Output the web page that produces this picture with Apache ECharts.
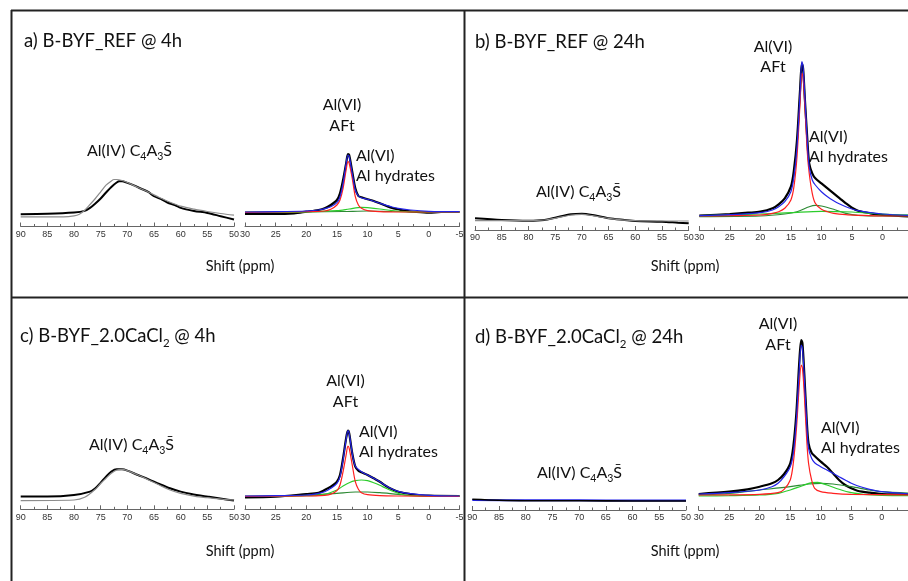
<!DOCTYPE html>
<html>
<head>
<meta charset="utf-8">
<script src="https://cdn.jsdelivr.net/npm/echarts@6/dist/echarts.min.js"></script>
<style>
  html, body { margin: 0; padding: 0; background: #fff; }
  #chart { width: 908px; height: 581px; }
</style>
</head>
<body>
<div id="chart"></div>
<script>
// tick labels of the two shift windows (ppm)
const leftTicks = [90, 85, 80, 75, 70, 65, 60, 55, 50]
const rightTicks = [30, 25, 20, 15, 10, 5, 0, -5]

// [shift ppm, intensity a.u.]
// a) B-BYF_REF @ 4h
const aIvExp = [[90,12.3],[85,12.7],[80,14],[78,15.6],[77,18.6],[76,23],[75,28],[74,34],[73,39.6],[72,44],[71.5,45.3],[71,45.3],[70,43.6],[69,41.6],[67.5,38],[66,34.3],[65,30.3],[63.5,27],[62.5,24],[61,21.3],[60,18.6],[57.5,15.6],[55,13.6],[52.5,10.3],[50,7]]
const aIvFit = [[90,9.6],[82,9.6],[80,10.6],[79,12.3],[78,16.3],[77,22],[76,28],[75,34.6],[74,41.3],[73,45.6],[72.5,47],[72,47],[71,46],[70,44],[68,39],[66,34.3],[64,29],[62,24.3],[60,20.3],[57.5,17.3],[55,15],[52.5,13],[50,11.3]]
const aViExp = [[30,12.5],[25,12.5],[22,13.2],[20,14.8],[18,16.5],[17,18.2],[16,21.5],[15,26.5],[14.5,33.2],[14,46.5],[13.5,63],[13.2,72.5],[13,71.5],[12.5,54.8],[12,38.2],[11.5,30.5],[11,29.2],[10,27.2],[9,25.5],[8,23.2],[7,20.8],[6,18.5],[5,17.2],[4,15.8],[2,14.5],[0,13.8],[-2,14.5],[-5,14.5]]
const aViSum = [[30,14.5],[25,14.8],[20,15.5],[18,16.5],[16,19.8],[15,23.8],[14.5,29.8],[14,43.2],[13.5,63],[13.2,71.5],[13,70],[12.5,53],[12,36.5],[11.5,30.5],[11,28.8],[10,27.2],[8,23.2],[6,19.5],[5,18.2],[3,16.5],[0,15.2],[-5,14.8]]
const aViAft = [[30,14.2],[20,14.8],[17,15.5],[16,17.2],[15,21.5],[14.5,26.5],[14,38.2],[13.5,56.5],[13.2,64.8],[13,63.2],[12.5,48.2],[12,29.8],[11.5,21.5],[11,18.2],[10,15.8],[8,14.8],[5,14.5],[-5,14.5]]
const aViHydA = [[30,14.2],[20,14.5],[15,15.8],[13,17.5],[11,19.2],[10,18.8],[8,17.5],[6,15.8],[4,14.8],[0,14.5],[-5,14.5]]
const aViHydB = [[30,14.5],[20,14.6],[14,15],[10,15.5],[6,15],[0,14.6],[-5,14.5]]

// b) B-BYF_REF @ 24h
const bIvExp = [[90,11.7],[85,10],[80,9.3],[77,10],[75,12.3],[72,15.7],[70,16.3],[68,15],[65,11.7],[62,10],[60,9],[55,8.3],[52,7.3],[50,6.7]]
const bIvFit = [[90,9.3],[80,9.3],[77,10],[75,11.7],[72,15],[70,15.7],[68,14.3],[65,11.7],[60,9.3],[55,9],[50,9]]
const bViExp = [[30,14.3],[25,16],[22,17.3],[20,18.3],[18,21.7],[17,25.7],[16,31.7],[15,43.3],[14.5,60],[14,90],[13.5,140],[13.2,166.7],[13,161.7],[12.7,130],[12.3,90],[12,66.7],[11.5,56.7],[11,51.7],[10,46.7],[9,41.7],[8,36.7],[7,31.7],[6,26.7],[5,22.3],[4,19.3],[2,16.7],[0,15],[-2,14.3],[-5,13.3]]
const bViSum = [[30,14.3],[25,15.3],[20,17.3],[18,20],[17,23.3],[16,28.3],[15,38.3],[14.5,53.3],[14,83.3],[13.5,136.7],[13.2,168.3],[13,163.3],[12.7,131.7],[12.3,86.7],[12,63.3],[11.5,50],[11,45],[10,38.3],[9,33.3],[8,29.3],[7,26],[6,23.3],[5,21],[4,19.3],[2,17.3],[0,16],[-5,14.3]]
const bViAft = [[30,14],[25,14.3],[20,15],[18,16.7],[17,18.3],[16,21.7],[15,30],[14.5,43.3],[14,73.3],[13.5,126.7],[13.2,156.7],[13,153.3],[12.7,123.3],[12.3,76.7],[12,56.7],[11.5,36.7],[11,26.7],[10,20.7],[9,18.3],[8,16.7],[6,15.3],[4,14.7],[0,14],[-5,14]]
const bViHydA = [[30,14.3],[20,16],[15,17.3],[10,18.7],[5,18],[0,16],[-5,15]]
const bViHydB = [[30,13.3],[20,14],[16,16],[14,18.3],[12,23.3],[11,24.7],[10,24],[8,20.7],[6,16.7],[4,14.7],[0,14],[-5,14]]

// c) B-BYF_2.0CaCl2 @ 4h
const cIvExp = [[90,12.7],[85,12.7],[80,14.3],[77,17.7],[76,21],[75,26.7],[74,32.7],[73,37.7],[72,40],[71,40],[70,38.7],[68,34.3],[66,30],[64,25.3],[62,21],[60,17.7],[58,15.3],[55,12.7],[52,10.3],[50,8.7]]
const cIvFit = [[90,8.7],[80,9.3],[78,12],[76,20],[75,26],[74,31],[73,36],[72,39.3],[71,40],[70,38.7],[68,34.3],[66,29.3],[64,24.3],[62,19.3],[60,16],[57,12.7],[55,11.7],[52,10],[50,9.3]]
const cViExp = [[30,12],[25,12.6],[20,15.3],[18,16.6],[17,19.3],[16,22.6],[15,27.6],[14.5,34.3],[14,51],[13.5,71],[13.2,78.6],[13,76],[12.5,56],[12,42.6],[11.5,38.6],[11,37],[10,34.3],[9,31],[8,27.6],[7,23.3],[6,20],[5,17.6],[3,15.3],[0,13.6],[-5,13.3]]
const cViSum = [[30,13.3],[25,13.6],[20,14.3],[18,16],[17,17.6],[16,21],[15,26],[14.5,32.6],[14,49.3],[13.5,70],[13.2,78.6],[13,76],[12.5,56],[12,43.3],[11,37.6],[10,34.3],[9,31],[8,27.6],[7,23.6],[6,20.3],[5,18],[3,15.6],[0,14],[-5,13.3]]
const cViAft = [[30,13],[20,13.3],[17,14],[16,15],[15,18.6],[14.5,24.3],[14,37.6],[13.5,54.3],[13.2,63.3],[13,61],[12.5,44.3],[12,27.6],[11.5,20],[11,16.6],[10,14.6],[8,13.6],[5,13.3],[-5,13]]
const cViHydA = [[30,13],[20,13.6],[17,15],[15,19.3],[14,23.3],[13,26.6],[12,28.6],[11,29.3],[10,28.6],[9,26.6],[8,24],[7,21],[6,18.3],[5,16],[4,14.3],[2,13.3],[-5,13]]
const cViHydB = [[30,13],[20,14],[15,16],[12,17.3],[10,17.3],[8,16.6],[5,15],[2,13.6],[-5,13.3]]

// d) B-BYF_2.0CaCl2 @ 24h
const dIvExp = [[90,10.7],[85,9.7],[80,9.3],[70,9.3],[60,9],[50,9]]
const dIvFit = [[90,10],[80,9.7],[70,9.7],[60,9.5],[50,9.5]]
const dViExp = [[30,16],[25,18.3],[22,20.7],[20,23.3],[18,26.7],[17,30],[16,36],[15,46.7],[14.5,63.3],[14,96.7],[13.5,150],[13.2,170],[13,166.7],[12.7,136.7],[12.3,90],[12,66.7],[11.5,57.3],[11,54],[10,48.3],[9,43.3],[8,36.7],[7,30],[6,25],[5,21.7],[4,19.3],[2,17.3],[0,16],[-2,15.7],[-5,15.7]]
const dViSum = [[30,16],[25,17.3],[20,20],[18,23.3],[17,26.7],[16,33.3],[15,43.3],[14.5,56.7],[14,90],[13.5,143.3],[13.2,165],[13,161.7],[12.7,133.3],[12.3,86.7],[12,61.7],[11.5,51.7],[11,47.3],[10,43.3],[9,40],[8,36.7],[7,33.3],[6,30],[5,26.7],[4,24.3],[2,20.7],[0,18.3],[-5,16]]
const dViAft = [[30,15],[20,15.7],[17,17.3],[16,20.7],[15,30],[14.5,46.7],[14,80],[13.5,126.7],[13.2,145],[13,141.7],[12.7,116.7],[12.3,70],[12,46.7],[11.5,30],[11,21.7],[10,18.3],[8,16.7],[5,15.7],[-5,15]]
const dViHydA = [[30,14],[25,14.3],[20,15],[17,16.7],[15,20],[13,24.3],[11.5,27.3],[10.5,27.7],[9,25],[7,20.7],[5,17.3],[3,15.7],[0,14.7],[-5,14.3]]
const dViHydB = [[30,15],[25,16.7],[20,20],[15,23.3],[12,26],[10,26.7],[8,26],[5,23.3],[2,20],[0,18.3],[-5,16.7]]

const panelTitles = [
  'a) B-BYF_REF @ 4h',
  'b) B-BYF_REF @ 24h',
  'c) B-BYF_2.0CaCl{sub|2} @ 4h',
  'd) B-BYF_2.0CaCl{sub|2} @ 24h',
]

const C = {
  exp: '#000000',
  fit: '#8c8c8c',
  sum: '#2424e8',
  aft: '#ff1f1f',
  hydA: '#2ccc2c',
  hydB: '#2d8a34',
}

// layout of each panel: axis baseline y, pixel span of both windows
const panels = [
  { axisY: 226.5, left: [20.7, 234], right: [245, 459.5], ivFit: C.fit, fitUnder: false,
    data: { ivExp: aIvExp, ivFit: aIvFit, viExp: aViExp, viSum: aViSum, viAft: aViAft, hydA: aViHydA, hydB: aViHydB },
    title: [24, 41], iv: [87, 151], aft: [342, 105, 126], hyd: [356, 156, 176], shift: [240, 266] },
  { axisY: 230, left: [475, 688.7], right: [699.3, 913], ivFit: C.fit, fitUnder: false,
    data: { ivExp: bIvExp, ivFit: bIvFit, viExp: bViExp, viSum: bViSum, viAft: bViAft, hydA: bViHydA, hydB: bViHydB },
    title: [475, 42], iv: [536, 192], aft: [773, 47, 67], hyd: [809, 137, 157], shift: [685, 266] },
  { axisY: 509.3, left: [20.7, 234], right: [245, 459.5], ivFit: C.fit, fitUnder: false,
    data: { ivExp: cIvExp, ivFit: cIvFit, viExp: cViExp, viSum: cViSum, viAft: cViAft, hydA: cViHydA, hydB: cViHydB },
    title: [20, 336], iv: [89, 445], aft: [345.5, 381, 402], hyd: [359, 432, 452], shift: [240, 551] },
  { axisY: 510, left: [472.3, 686], right: [698.7, 912.3], ivFit: C.sum, fitUnder: true,
    data: { ivExp: dIvExp, ivFit: dIvFit, viExp: dViExp, viSum: dViSum, viAft: dViAft, hydA: dViHydA, hydB: dViHydB },
    title: [475, 337], iv: [537, 473], aft: [778, 324, 345], hyd: [821, 428, 448], shift: [685, 551] },
]

const GRID_H = 200
const FONT = 'Lato, "Open Sans", sans-serif'

const grid = []
const xAxis = []
const yAxis = []
const series = []
const graphic = []

function addLine(gi, data, color, width) {
  series.push({
    type: 'line', xAxisIndex: gi, yAxisIndex: gi, data,
    symbol: 'none', smooth: 0.3, silent: true,
    lineStyle: { color, width },
  })
}

function axisFor(gi, ticks) {
  return {
    type: 'value', gridIndex: gi, inverse: true,
    min: Math.min(...ticks), max: Math.max(...ticks), interval: 5,
    axisLine: { show: true, onZero: false, lineStyle: { color: '#666', width: 1 } },
    axisTick: { show: true, inside: true, length: 4, lineStyle: { color: '#666' } },
    minorTick: { show: true, splitNumber: 2, length: 2.5, lineStyle: { color: '#666' } },
    splitLine: { show: false },
    axisLabel: { fontSize: 9, color: '#333', margin: 3.5, fontFamily: '"Liberation Sans", Arial, sans-serif' },
  }
}

function text(x, y, str, opts) {
  graphic.push({
    type: 'text', x, y, silent: true,
    style: Object.assign({
      text: str, fill: '#111', fontFamily: FONT, fontSize: 16, lineHeight: 22,
      align: 'left', verticalAlign: 'middle',
      rich: {
        sub: { fontSize: 10.5, fontFamily: FONT, verticalAlign: 'bottom', lineHeight: 12, fill: '#111' },
      },
    }, opts || {}),
  })
}

panels.forEach((p, i) => {
  const gl = i * 2, gr = i * 2 + 1
  const top = p.axisY - GRID_H
  grid.push({ left: p.left[0], width: p.left[1] - p.left[0], top, height: GRID_H, outerBoundsMode: 'none', containLabel: false })
  grid.push({ left: p.right[0], width: p.right[1] - p.right[0], top, height: GRID_H, outerBoundsMode: 'none', containLabel: false })
  xAxis.push(axisFor(gl, leftTicks), axisFor(gr, rightTicks))
  yAxis.push({ type: 'value', gridIndex: gl, min: 0, max: GRID_H, show: false },
             { type: 'value', gridIndex: gr, min: 0, max: GRID_H, show: false })

  const d = p.data
  if (p.fitUnder) {
    addLine(gl, d.ivFit, p.ivFit, 2)
    addLine(gl, d.ivExp, C.exp, 1.6)
  } else {
    addLine(gl, d.ivExp, C.exp, 2)
    addLine(gl, d.ivFit, p.ivFit, 1.2)
  }
  addLine(gr, d.viExp, C.exp, 2.2)
  addLine(gr, d.hydB, C.hydB, 1.2)
  addLine(gr, d.hydA, C.hydA, 1.2)
  addLine(gr, d.viAft, C.aft, 1.2)
  addLine(gr, d.viSum, C.sum, 1.2)

  text(p.title[0], p.title[1], panelTitles[i], {
    fontSize: 18.5, lineHeight: 26,
    rich: {
      sub: { fontSize: 11.5, fontFamily: FONT, verticalAlign: 'bottom', lineHeight: 14, fill: '#111' },
    },
  })
  text(p.iv[0], p.iv[1], 'Al(IV) C{sub|4}A{sub|3}S\u0304')
  text(p.aft[0], p.aft[1], 'Al(VI)', { align: 'center' })
  text(p.aft[0], p.aft[2], 'AFt', { align: 'center' })
  text(p.hyd[0], p.hyd[1], 'Al(VI)')
  text(p.hyd[0], p.hyd[2], 'Al hydrates')
  text(p.shift[0], p.shift[1], 'Shift (ppm)', { align: 'center', fontSize: 14.5 })
})

// panel frame
const frame = [
  [11, 10.5, 908, 10.5],
  [11.5, 10, 11.5, 581],
  [464.5, 10, 464.5, 581],
  [11, 297.5, 908, 297.5],
]
frame.forEach(([x1, y1, x2, y2]) => {
  graphic.push({ type: 'line', silent: true, shape: { x1, y1, x2, y2 }, style: { stroke: '#222', lineWidth: 2 } })
})

const chart = echarts.init(document.getElementById('chart'))
chart.setOption({
  animation: false,
  backgroundColor: '#fff',
  grid, xAxis, yAxis, series, graphic,
})
</script>
</body>
</html>
